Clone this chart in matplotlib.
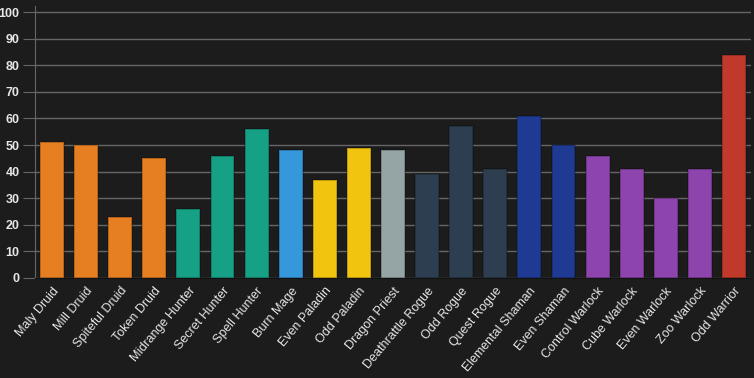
import matplotlib.pyplot as plt

plt.rcParams['font.family'] = ['Liberation Sans', 'DejaVu Sans']

decks = ['Maly Druid', 'Mill Druid', 'Spiteful Druid', 'Token Druid',
         'Midrange Hunter', 'Secret Hunter', 'Spell Hunter', 'Burn Mage',
         'Even Paladin', 'Odd Paladin', 'Dragon Priest', 'Deathrattle Rogue',
         'Odd Rogue', 'Quest Rogue', 'Elemental Shaman', 'Even Shaman',
         'Control Warlock', 'Cube Warlock', 'Even Warlock', 'Zoo Warlock',
         'Odd Warrior']
values = [51, 50, 23, 45, 26, 46, 56, 48, 37, 49, 48, 39, 57, 41, 61, 50,
          46, 41, 30, 41, 84]
colors = ['#e67e22'] * 4 + ['#16a085'] * 3 + ['#3498db'] + ['#f1c40f'] * 2 \
    + ['#95a5a6'] + ['#2c3e50'] * 3 + ['#1f3a93'] * 2 + ['#8e44ad'] * 4 \
    + ['#c0392b']
yticks = list(range(0, 101, 10))

bg = '#1c1c1c'
grid = '#666666'

fig = plt.figure(figsize=(7.54, 3.78), dpi=100, facecolor=bg)
ax = fig.add_axes([35 / 754, 1 - 278 / 378, 716 / 754, 272 / 378])
ax.set_facecolor(bg)

x = range(len(decks))
ax.bar(x, values, width=0.7, color=colors, edgecolor='#00000040',
       linewidth=1.2, zorder=3)

ax.set_xlim(-0.5, len(decks) - 0.5)
ax.set_ylim(0, 102.3)
ax.set_yticks(yticks)
ax.set_yticklabels([str(t) for t in yticks], fontsize=9, fontweight='bold',
                   color='#e6e6e6')
ax.set_xticks(list(x))
ax.set_xticklabels(decks, rotation=50, ha='right', rotation_mode='anchor',
                   fontsize=9, color='#e6e6e6')
ax.tick_params(axis='y', length=9, color=grid, pad=2)
ax.tick_params(axis='x', length=0, pad=5)
ax.yaxis.grid(True, color=grid, linewidth=1, zorder=0)

for side in ['top', 'right']:
    ax.spines[side].set_visible(False)
ax.spines['left'].set_color(grid)
ax.spines['bottom'].set_color('#111111')
ax.spines['bottom'].set_zorder(4)

fig.savefig('out.png', dpi=100, facecolor=bg)
